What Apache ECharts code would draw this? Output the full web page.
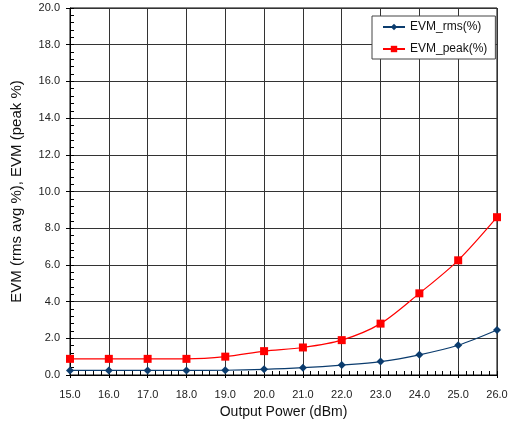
<!DOCTYPE html>
<html>
<head>
<meta charset="utf-8">
<script src="https://cdn.jsdelivr.net/npm/echarts@6/dist/echarts.min.js"></script>
<style>
  html, body { margin: 0; padding: 0; background: #fff; }
  #chart { width: 510px; height: 421px; }
</style>
</head>
<body>
<div id="chart"></div>
<script>
// Output power sweep (dBm)
const outputPower = [15, 16, 17, 18, 19, 20, 21, 22, 23, 24, 25, 26];
// EVM, rms average (%)
const evmRms = [0.25, 0.25, 0.25, 0.25, 0.26, 0.31, 0.40, 0.54, 0.73, 1.10, 1.62, 2.45];
// EVM, peak (%)
const evmPeak = [0.88, 0.88, 0.88, 0.88, 1.00, 1.30, 1.50, 1.90, 2.80, 4.45, 6.25, 8.60];

const FONT = '"Liberation Sans", Arial, sans-serif';
const pairs = (ys) => outputPower.map((x, i) => [x, ys[i]]);
const fmt = (v) => v.toFixed(1);

const chart = echarts.init(document.getElementById('chart'), null, { renderer: 'canvas' });

chart.setOption({
  animation: false,
  backgroundColor: '#fff',
  textStyle: { fontFamily: FONT },
  grid: {
    left: 70, right: 13, top: 8, bottom: 46,
    containLabel: false,
    outerBoundsMode: 'none',
    show: true, borderColor: '#000', borderWidth: 1, backgroundColor: 'transparent'
  },
  legend: {
    orient: 'vertical',
    left: 372, top: 16,
    padding: [4, 8, 3, 10],
    backgroundColor: '#fff',
    borderColor: '#444',
    borderWidth: 1,
    borderRadius: 0,
    itemWidth: 22,
    itemHeight: 8,
    itemGap: 8,
    textStyle: { fontFamily: FONT, fontSize: 12, color: '#111', lineHeight: 14 },
    data: ['EVM_rms(%)', 'EVM_peak(%)']
  },
  xAxis: [{
    type: 'value',
    min: 15, max: 26, interval: 1,
    position: 'bottom',
    name: 'Output Power (dBm)',
    nameLocation: 'middle',
    nameGap: 30,
    nameTextStyle: { fontFamily: FONT, fontSize: 14, color: '#111' },
    axisLine: { show: true, lineStyle: { color: '#000', width: 1 } },
    axisTick: { show: true, inside: true, length: 4, lineStyle: { color: '#000' } },
    minorTick: { show: true, splitNumber: 5, length: 4, lineStyle: { color: '#000' } },
    axisLabel: { formatter: fmt, fontFamily: FONT, fontSize: 11, color: '#222', margin: 14 },
    splitLine: { show: true, lineStyle: { color: '#333', width: 1 } }
  }, {
    // outward major tick stubs below the frame
    type: 'value',
    min: 15, max: 26, interval: 1,
    position: 'bottom',
    axisLine: { show: false },
    axisTick: { show: true, inside: false, length: 3, lineStyle: { color: '#000' } },
    axisLabel: { show: false },
    splitLine: { show: false }
  }],
  yAxis: [{
    type: 'value',
    min: 0, max: 20, interval: 2,
    position: 'left',
    name: 'EVM (rms avg %), EVM (peak %)',
    nameLocation: 'middle',
    nameGap: 46,
    nameTextStyle: { fontFamily: FONT, fontSize: 15, color: '#111' },
    axisLine: { show: true, lineStyle: { color: '#000', width: 1 } },
    axisTick: { show: true, inside: true, length: 4, lineStyle: { color: '#000' } },
    minorTick: { show: true, splitNumber: 5, length: 4, lineStyle: { color: '#000' } },
    axisLabel: { formatter: fmt, fontFamily: FONT, fontSize: 11, color: '#222', margin: 10 },
    splitLine: { show: true, lineStyle: { color: '#333', width: 1 } }
  }, {
    type: 'value',
    min: 0, max: 20, interval: 2,
    position: 'left',
    axisLine: { show: false },
    axisTick: { show: true, inside: false, length: 4, lineStyle: { color: '#000' } },
    axisLabel: { show: false },
    splitLine: { show: false }
  }],
  series: [{
    name: 'EVM_rms(%)',
    type: 'line',
    data: pairs(evmRms),
    smooth: 0.3,
    symbol: 'diamond',
    symbolSize: 8,
    itemStyle: { color: '#0b3c6e' },
    lineStyle: { color: '#0b3c6e', width: 1.2 },
    z: 3
  }, {
    name: 'EVM_peak(%)',
    type: 'line',
    data: pairs(evmPeak),
    smooth: 0.3,
    symbol: 'rect',
    symbolSize: 8,
    itemStyle: { color: '#ff0000' },
    lineStyle: { color: '#ff0000', width: 1.2 },
    z: 3
  }]
});
</script>
</body>
</html>
